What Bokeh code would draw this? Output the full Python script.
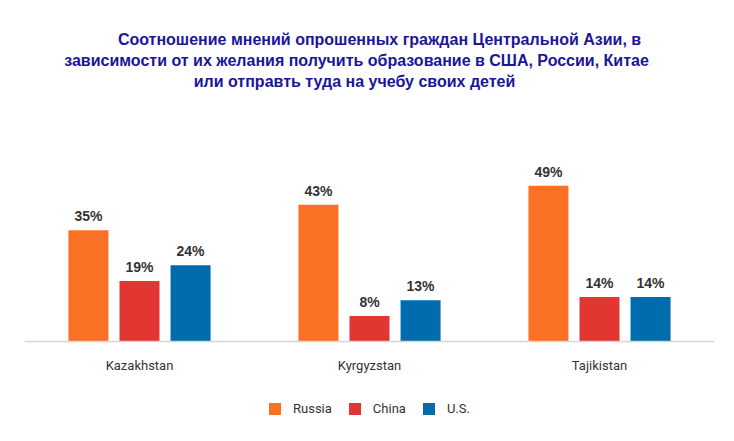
from bokeh.plotting import figure
from bokeh.models import ColumnDataSource, FactorRange, Label, Legend, LegendItem, Span
from bokeh.transform import dodge
from bokeh.core.properties import value
from bokeh.embed import file_html
from bokeh.resources import INLINE

countries = ["Kazakhstan", "Kyrgyzstan", "Tajikistan"]
russia = [35, 43, 49]
china = [19, 8, 14]
us = [24, 13, 14]
series_names = ["Russia", "China", "U.S."]
series_keys = ["russia", "china", "us"]
series_colors = ["#FA7125", "#E23633", "#006CAE"]
title_lines = [
    "Соотношение мнений опрошенных граждан Центральной Азии, в",
    "зависимости от их желания получить образование в США, России, Китае",
    "или отправть туда на учебу своих детей",
]

src = ColumnDataSource(dict(
    country=countries,
    russia=russia, china=china, us=us,
    russia_lbl=[f"{v}%" for v in russia],
    china_lbl=[f"{v}%" for v in china],
    us_lbl=[f"{v}%" for v in us],
))

p = figure(
    x_range=FactorRange(*countries, range_padding=0),
    y_range=(-28.9, 107.2),
    width=726, height=433,
    output_backend="svg", toolbar_location=None,
    min_border_left=24, min_border_right=12,
    min_border_top=0, min_border_bottom=0,
)
p.outline_line_color = None
p.xgrid.visible = False
p.ygrid.visible = False
p.xaxis.visible = False
p.yaxis.visible = False
p.background_fill_color = "white"
p.border_fill_color = "white"

p.add_layout(Span(location=0, dimension="width", line_color="#d6d6d6", line_width=1.5))

p.text(x="country", y=0, text="country", source=src, y_offset=24,
       text_align="center", text_baseline="middle",
       text_font=value("Roboto"), text_font_size="13px", text_color="#333333")

offsets = [-0.222, 0.0, 0.222]
items = []
for key, name, color, off in zip(series_keys, series_names, series_colors, offsets):
    r = p.vbar(x=dodge("country", off, range=p.x_range), top=key, width=0.174,
               source=src, fill_color=color, line_color=None)
    p.text(x=dodge("country", off, range=p.x_range), y=key, text=key + "_lbl",
           source=src, text_align="center", text_baseline="middle", y_offset=-14,
           text_font=value("Liberation Sans"), text_font_style="bold",
           text_font_size="14px", text_color="#333333")
    items.append(LegendItem(label=name, renderers=[r]))

legend = Legend(items=items, orientation="horizontal", location=(243, 17),
                label_standoff=11, spacing=15, padding=0, margin=0,
                glyph_width=15, glyph_height=15,
                border_line_color=None, background_fill_alpha=0,
                label_text_font="Roboto", label_text_font_size="13px",
                label_text_color="#333333")
p.add_layout(legend)

title_x = [355, 332, 330]
title_y = [394, 373, 352]
for txt, tx, ty in zip(title_lines, title_x, title_y):
    p.add_layout(Label(x=tx, y=ty, x_units="screen", y_units="screen", text=txt,
                       text_align="center", text_baseline="middle",
                       text_font="Liberation Sans", text_font_style="bold",
                       text_font_size="16px", text_color="#1b1699"))

open("out.html", "w").write(file_html(p, INLINE))
